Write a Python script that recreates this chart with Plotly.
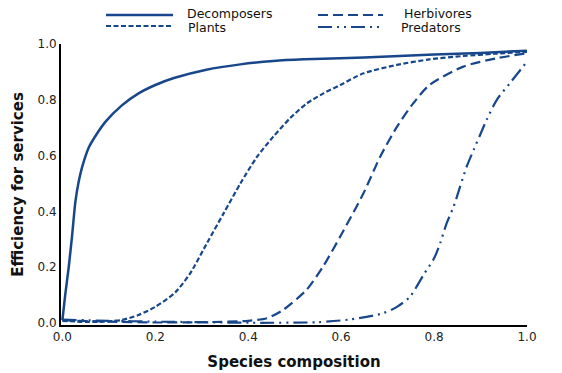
import plotly.graph_objects as go

# ---- data ----
decomp_x = [0, 0.006, 0.0136, 0.021, 0.028, 0.035, 0.042, 0.057, 0.075, 0.092, 0.128, 0.164,
            0.2, 0.24, 0.31, 0.383, 0.454, 0.52, 0.598, 0.7, 0.8, 0.9, 1.0]
decomp_y = [0.01, 0.10, 0.20, 0.315, 0.435, 0.506, 0.556, 0.63, 0.68, 0.72, 0.78, 0.823,
            0.853, 0.878, 0.908, 0.927, 0.939, 0.945, 0.949, 0.955, 0.962, 0.968, 0.976]

plants_x = [0, 0.05, 0.09, 0.128, 0.164, 0.2, 0.243, 0.275, 0.311, 0.347, 0.383, 0.419,
            0.454, 0.49, 0.526, 0.562, 0.598, 0.648, 0.72, 0.79, 0.863, 0.93, 1.0]
plants_y = [0.008, 0.004, 0.005, 0.011, 0.029, 0.058, 0.11, 0.178, 0.286, 0.393, 0.50, 0.596,
            0.668, 0.734, 0.787, 0.823, 0.853, 0.895, 0.925, 0.945, 0.957, 0.965, 0.972]

herb_x = [0, 0.1, 0.2, 0.3, 0.4, 0.44, 0.475, 0.526, 0.562, 0.598, 0.648, 0.684,
          0.72, 0.755, 0.79, 0.863, 0.935, 1.0]
herb_y = [0.01, 0.005, 0.002, 0.003, 0.008, 0.017, 0.047, 0.12, 0.205, 0.31, 0.465, 0.596,
          0.703, 0.787, 0.853, 0.919, 0.949, 0.967]

pred_x = [0, 0.1, 0.2, 0.3, 0.404, 0.548, 0.62, 0.69, 0.72, 0.748, 0.777, 0.8, 0.813, 0.827,
          0.842, 0.856, 0.87, 0.885, 0.899, 0.913, 0.935, 0.963, 1.0]
pred_y = [0.012, 0.008, 0.005, 0.003, 0.001, 0.003, 0.013, 0.035, 0.058, 0.094, 0.172, 0.232,
          0.286, 0.357, 0.417, 0.489, 0.56, 0.62, 0.674, 0.728, 0.80, 0.859, 0.937]

x_ticks = [0.0, 0.2, 0.4, 0.6, 0.8, 1.0]
y_ticks = [0.0, 0.2, 0.4, 0.6, 0.8, 1.0]
tick_text = ["0.0", "0.2", "0.4", "0.6", "0.8", "1.0"]

series_names = ["Decomposers", "Plants", "Herbivores", "Predators"]

# ---- styles ----
BLUE = "#17478a"
FONT = "DejaVu Sans"
dashes = {
    "Decomposers": "solid",
    "Plants": "5px,2.5px",
    "Herbivores": "10px,5px",
    "Predators": "14px,5px,2px,5px,2px,5px",
}
widths = {"Decomposers": 2.5, "Plants": 2.2, "Herbivores": 2.2, "Predators": 2.2}

W, H = 562, 373
ML, MR, MT, MB = 61, 35, 44, 48

fig = go.Figure()
for name, xs, ys in [("Decomposers", decomp_x, decomp_y), ("Plants", plants_x, plants_y),
                     ("Herbivores", herb_x, herb_y), ("Predators", pred_x, pred_y)]:
    fig.add_trace(go.Scatter(x=xs, y=ys, mode="lines", name=name,
                             line=dict(color=BLUE, width=widths[name], dash=dashes[name],
                                       shape="spline", smoothing=0.7),
                             showlegend=False, hoverinfo="skip"))

# ---- manual legend (pixel layout converted to paper coords) ----
def px_x(p):
    return (p - ML) / (W - ML - MR)

def px_y(p):
    return (H - MB - p) / (H - MT - MB)

legend_items = [
    ("Decomposers", 106, 173, 15, 186, 13),
    ("Plants", 106, 173, 26, 187, 27),
    ("Herbivores", 318, 383, 15, 403, 13),
    ("Predators", 318, 383, 27, 400, 27),
]
shapes = []
annots = []
for name, x0, x1, yy, tx, ty in legend_items:
    shapes.append(dict(type="line", xref="paper", yref="paper",
                       x0=px_x(x0), x1=px_x(x1), y0=px_y(yy), y1=px_y(yy),
                       line=dict(color=BLUE, width=widths[name], dash=dashes[name])))
    annots.append(dict(xref="paper", yref="paper", x=px_x(tx), y=px_y(ty),
                       xanchor="left", yanchor="middle", showarrow=False, text=name,
                       borderpad=0,
                       font=dict(family=FONT, size=12.5, color="#111")))

fig.update_layout(
    width=W, height=H,
    margin=dict(l=ML, r=MR, t=MT, b=MB, autoexpand=False),
    paper_bgcolor="white", plot_bgcolor="white",
    font=dict(family=FONT, size=12, color="#222"),
    shapes=shapes, annotations=annots,
    xaxis=dict(range=[-0.003, 1.0], tickvals=x_ticks, ticktext=tick_text, showgrid=False,
               zeroline=False, showline=True, linecolor="black", linewidth=2, ticks="",
               automargin=False,
               tickfont=dict(size=12, color="#222"),
               title=dict(text="<b>Species composition</b>", font=dict(size=15, color="#111"),
                          standoff=13)),
    yaxis=dict(range=[-0.007, 1.0], tickvals=y_ticks, ticktext=tick_text, showgrid=False,
               zeroline=False, showline=True, linecolor="black", linewidth=2, ticks="",
               automargin=False,
               tickfont=dict(size=12, color="#222"),
               title=dict(text="<b>Efficiency for services</b>", font=dict(size=15, color="#111"),
                          standoff=10)),
)

fig.write_html("out.html",
               config={"displayModeBar": False},
               post_script="document.body.style.margin='0';document.body.style.overflow='hidden';")
